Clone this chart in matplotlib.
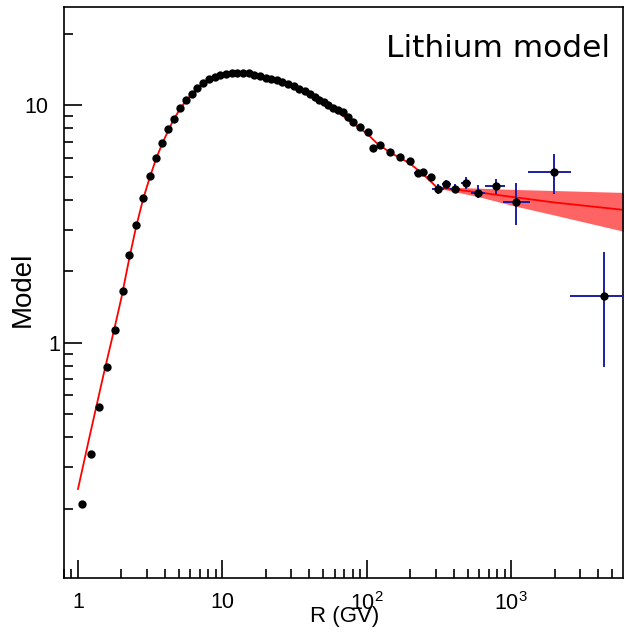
import numpy as np
import matplotlib
matplotlib.use("Agg")
import matplotlib.pyplot as plt
from matplotlib.ticker import LogLocator, FixedLocator, FixedFormatter, NullFormatter
from matplotlib.transforms import ScaledTranslation

plt.rcParams['font.family'] = ['Liberation Sans', 'DejaVu Sans']
plt.rcParams['mathtext.fontset'] = 'custom'
plt.rcParams['mathtext.rm'] = 'Liberation Sans'

# ---- data points (rigidity in GV, model value) ----
low_R = [1.066, 1.24, 1.40, 1.60, 1.81, 2.04, 2.27, 2.52, 2.83, 3.15, 3.47, 3.83,
         4.22, 4.61, 5.08, 5.59, 6.12, 6.70, 7.36, 8.11, 8.87]
low_F = [0.21, 0.34, 0.535, 0.79, 1.13, 1.66, 2.35, 3.13, 4.08, 5.03, 6.03, 6.95,
         7.92, 8.81, 9.71, 10.5, 11.2, 11.8, 12.4, 12.9, 13.2]

mid_R = [9.7, 10.6, 11.6, 12.7, 13.9, 15.2, 16.6, 18.2, 19.9, 21.8, 23.8, 26.0,
         28.5, 31.2, 34.1, 37.4, 40.4, 43.6, 47.0, 50.5, 54.2, 58.4, 63.0, 68.5,
         74.0, 80.4, 89.5, 102, 110.6, 123, 144, 169, 198]
mid_F = [13.4, 13.55, 13.65, 13.75, 13.75, 13.65, 13.45, 13.25, 13.1, 12.9, 12.75, 12.5,
         12.3, 12.05, 11.75, 11.45, 11.2, 10.9, 10.55, 10.35, 10.05, 9.71, 9.55, 9.40,
         8.95, 8.53, 8.12, 7.74, 6.59, 6.80, 6.37, 6.07, 5.82]

# high rigidity points with visible error bars
hi_R = [226, 245, 280, 311, 356, 406, 484, 589, 781, 1087, 1977, 4365]
hi_F = [5.17, 5.25, 5.00, 4.46, 4.65, 4.46, 4.71, 4.29, 4.58, 3.90, 5.22, 1.58]
hi_R_lo = [212, 230, 263, 283, 330, 376, 452, 525, 656, 873, 1307, 2541]
hi_R_hi = [241, 261, 298, 342, 384, 439, 529, 656, 902, 1343, 2612, 8000]
hi_F_lo = [5.02, 5.10, 4.85, 4.25, 4.45, 4.26, 4.46, 4.06, 4.25, 3.13, 4.25, 0.789]
hi_F_hi = [5.32, 5.40, 5.15, 4.68, 4.85, 4.66, 5.00, 4.61, 4.92, 4.69, 6.23, 2.41]

# ---- model curve ----
model_R = [1.0, 1.2, 1.5, 1.8, 2.0, 2.27, 2.52, 2.83, 3.15, 3.47, 3.83, 4.22, 4.61,
           5.08, 5.59, 6.12, 6.70, 7.36, 8.11, 8.87, 10, 11.5, 13, 15, 18, 22, 25,
           30, 34.3, 43.6, 58.3, 80, 100, 117, 144, 198, 250, 305, 600, 1000, 2000, 6000]
model_F = [0.242, 0.40, 0.73, 1.17, 1.55, 2.28, 3.06, 4.05, 5.0, 5.95, 6.9, 7.85, 8.75,
           9.65, 10.45, 11.15, 11.75, 12.35, 12.85, 13.2, 13.5, 13.7, 13.75, 13.65, 13.3,
           12.9, 12.6, 12.1, 11.8, 10.9, 9.74, 8.4, 7.62, 6.95, 6.35, 5.71, 5.08, 4.52,
           4.30, 4.12, 3.90, 3.63]

# uncertainty band of the model above the break
band_R = [300, 600, 1000, 2000, 6000]
band_lo = [4.50, 4.12, 3.80, 3.45, 2.95]
band_hi = [4.55, 4.48, 4.43, 4.38, 4.30]

fig = plt.figure(figsize=(6.25, 6.35), dpi=100)
ax = fig.add_axes([0.1024, 0.0898, 0.8936, 0.8992])

ax.fill_between(band_R, band_lo, band_hi, color='#ff6464', lw=0, zorder=1)
ax.plot(model_R, model_F, color='red', lw=1.3, zorder=2)

hi_R_a = np.array(hi_R)
hi_F_a = np.array(hi_F)
xerr = [hi_R_a - np.array(hi_R_lo), np.array(hi_R_hi) - hi_R_a]
yerr = [hi_F_a - np.array(hi_F_lo), np.array(hi_F_hi) - hi_F_a]
ax.errorbar(hi_R, hi_F, xerr=xerr, yerr=yerr, fmt='none', ecolor='#1c1ca8',
            elinewidth=1.4, capsize=0, zorder=3)

ax.plot(low_R + mid_R + hi_R, low_F + mid_F + hi_F, 'o', color='black',
        ms=6, mew=0, zorder=4)

ax.set_xscale('log')
ax.set_yscale('log')
ax.set_xlim(0.8, 5900)
ax.set_ylim(0.102, 26)

# ROOT-like ticks: inward, one side only
ax.xaxis.set_major_locator(FixedLocator([1, 10, 100, 1000]))
ax.xaxis.set_major_formatter(FixedFormatter(['1', '10', r'$\mathregular{10^{2}}$',
                                             r'$\mathregular{10^{3}}$']))
ax.xaxis.set_minor_locator(LogLocator(base=10, subs=np.arange(2, 10), numticks=20))
ax.xaxis.set_minor_formatter(NullFormatter())
ax.yaxis.set_major_locator(FixedLocator([1, 10]))
ax.yaxis.set_major_formatter(FixedFormatter(['1', '10']))
ax.yaxis.set_minor_locator(LogLocator(base=10, subs=np.arange(2, 10), numticks=20))
ax.yaxis.set_minor_formatter(NullFormatter())

ax.tick_params(which='both', direction='in', top=False, right=False, width=1.2,
               colors='black', labelsize=15.5)
ax.tick_params(which='major', length=13)
ax.tick_params(which='minor', length=6.5)
ax.tick_params(axis='x', pad=10)
ax.tick_params(axis='y', pad=11.5)

for s in ax.spines.values():
    s.set_linewidth(1.2)

ax.set_xlabel('R (GV)', fontsize=16)
ax.xaxis.label.set_va('center')
ax.xaxis.set_label_coords(0.503, -0.068)
ax.set_ylabel('Model', fontsize=20)
ax.yaxis.label.set_va('center')
ax.yaxis.set_label_coords(-0.0734, 0.506)

ax.text(0.978, 0.912, 'Lithium model', transform=ax.transAxes, ha='right',
        va='baseline', fontsize=22.5, family='DejaVu Sans', color='black')

# the "1" label sits closer to the axis in the original
fig.canvas.draw()
for t in ax.yaxis.get_major_ticks():
    if abs(t.get_loc() - 1) < 1e-9:
        t.label1.set_transform(t.label1.get_transform() +
                               ScaledTranslation(0.12, 0, fig.dpi_scale_trans))

fig.savefig('out.png', dpi=100)
